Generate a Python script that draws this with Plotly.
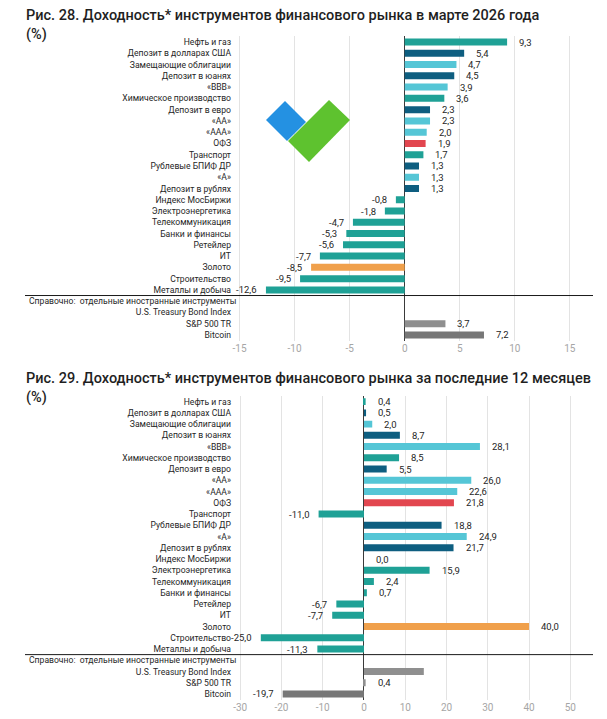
import plotly.graph_objects as go

OFF = 8  # page body margin of the browser
W, H = 607 - OFF, 719 - OFF

categories = [
    "Нефть и газ", "Депозит в долларах США", "Замещающие облигации", "Депозит в юанях",
    "«ВВВ»", "Химическое производство", "Депозит в евро", "«АА»", "«ААА»", "ОФЗ",
    "Транспорт", "Рублевые БПИФ ДР", "«А»", "Депозит в рублях", "Индекс МосБиржи",
    "Электроэнергетика", "Телекоммуникация", "Банки и финансы", "Ретейлер", "ИТ",
    "Золото", "Строительство", "Металлы и добыча",
    "Справочно:  отдельные иностранные инструменты",
    "U.S. Treasury Bond Index", "S&P 500 TR", "Bitcoin",
]
reference_row = "Справочно:  отдельные иностранные инструменты"

groups = [
    "sector", "deposit", "bond", "deposit", "bond", "sector", "deposit", "bond", "bond", "ofz",
    "sector", "deposit", "bond", "deposit", "sector", "sector", "sector", "sector", "sector", "sector",
    "gold", "sector", "sector", "none", "gray", "gray", "graydark",
]

values_28 = [9.3, 5.4, 4.7, 4.5, 3.9, 3.6, 2.3, 2.3, 2.0, 1.9, 1.7, 1.3, 1.3, 1.3, -0.8,
             -1.8, -4.7, -5.3, -5.6, -7.7, -8.5, -9.5, -12.6, None, None, 3.7, 7.2]
values_29 = [0.4, 0.5, 2.0, 8.7, 28.1, 8.5, 5.5, 26.0, 22.6, 21.8, -11.0, 18.8, 24.9, 21.7, 0.0,
             15.9, 2.4, 0.7, -6.7, -7.7, 40.0, -25.0, -11.3, None, 14.5, 0.4, -19.7]
unlabeled_29 = ["U.S. Treasury Bond Index"]

ticks_28 = [-15, -10, -5, 0, 5, 10, 15]
ticks_29 = [-30, -20, -10, 0, 10, 20, 30, 40, 50]

title_28 = "Рис. 28. Доходность* инструментов финансового рынка в марте 2026 года"
title_29 = "Рис. 29. Доходность* инструментов финансового рынка за последние 12 месяцев"

palette = {
    "sector": "#1fa196", "deposit": "#0e5e80", "bond": "#55c6d6", "ofz": "#e2464f",
    "gold": "#f0a04b", "gray": "#8f8f8f", "graydark": "#777777", "none": "#ffffff",
}
colors = [palette[g] for g in groups]

FONT = "Roboto"


def px_x(p):
    return (p - OFF) / W


def px_y(p):
    return 1 - (p - OFF) / H


def fmt(v):
    return f"{v:.1f}".replace(".", ",")


fig = go.Figure()

charts = [
    (values_28, "x", "y", [], ticks_28, [-15.5, 17.1], (36.4, 340.6), title_28, 13.5),
    (values_29, "x2", "y2", unlabeled_29, ticks_29, [-31.5, 55.5], (396.0, 699.6), title_29, 377.5),
]

x_dom = [px_x(234), px_x(593)]
annotations = []
shapes = []

for i, (vals, xa, ya, unl, ticks, xr, (top, bot), title, ty) in enumerate(charts):
    fig.add_trace(go.Bar(
        x=vals, y=categories, orientation="h", marker=dict(color=colors, line=dict(width=0)),
        width=0.62, xaxis=xa, yaxis=ya, hoverinfo="skip", showlegend=False,
    ))
    sfx = "" if i == 0 else "2"
    fig.update_layout(**{
        f"xaxis{sfx}": dict(
            domain=x_dom, range=xr, anchor=ya, tickvals=ticks, ticktext=[str(t) for t in ticks],
            showgrid=True, gridcolor="#e3e3e3", gridwidth=1, zeroline=True,
            zerolinecolor="#3a3a3a", zerolinewidth=1, showline=False, ticks="",
            tickfont=dict(family=FONT, size=10, color="#a6a6a6"), fixedrange=True,
        ),
        f"yaxis{sfx}": dict(
            domain=[px_y(bot), px_y(top)], anchor=xa, type="category",
            categoryorder="array", categoryarray=categories,
            range=[len(categories) - 0.5, -0.5], tickvals=categories,
            ticktext=["" if c == reference_row else c for c in categories],
            showgrid=False, zeroline=False, showline=False, ticks="", automargin=False,
            tickfont=dict(family=FONT, size=8.6, color="#262626"), ticklabelstandoff=2,
        ),
    })
    # value labels
    for c, v in zip(categories, vals):
        if v is None or c in unl:
            continue
        annotations.append(dict(
            x=v, y=c, xref=xa, yref=ya, text=fmt(v), showarrow=False,
            xanchor="left" if v >= 0 else "right", xshift=10 if v >= 0 else -7,
            font=dict(family=FONT, size=9.5, color="#262626"),
        ))
    # reference row label
    annotations.append(dict(
        x=px_x(27), y=reference_row, xref="paper", yref=ya, text=reference_row,
        showarrow=False, xanchor="left", font=dict(family=FONT, size=8.6, color="#262626"),
    ))
    # separator line
    sep_idx = categories.index(reference_row) - 0.5
    shapes.append(dict(type="line", xref="paper", yref=ya, x0=px_x(25), x1=px_x(593),
                       y0=sep_idx, y1=sep_idx, line=dict(color="#1a1a1a", width=1)))
    # title
    annotations.append(dict(
        x=px_x(24), y=px_y(ty - 9), xref="paper", yref="paper", xanchor="left", yanchor="top",
        text=title + "<br>(%)", showarrow=False, align="left",
        font=dict(family=FONT, size=14.5, color="#1f1f1f", weight=500),
    ))


def path(pts):
    return "M " + " L ".join(f"{px_x(x):.5f},{px_y(y):.5f}" for x, y in pts) + " Z"


shapes.append(dict(type="path", xref="paper", yref="paper",
                   path=path([(285, 101), (306, 122), (287, 141), (266, 120)]),
                   fillcolor="#2491e2", line=dict(width=0)))
shapes.append(dict(type="path", xref="paper", yref="paper",
                   path=path([(329, 100), (350, 120), (309, 162), (288, 141)]),
                   fillcolor="#5ec22f", line=dict(width=0)))

fig.update_layout(
    width=W, height=H, margin=dict(l=0, r=0, t=0, b=0),
    paper_bgcolor="white", plot_bgcolor="white", bargap=0.4,
    annotations=annotations, shapes=shapes, font=dict(family=FONT),
)

fig.write_html("out.html")
